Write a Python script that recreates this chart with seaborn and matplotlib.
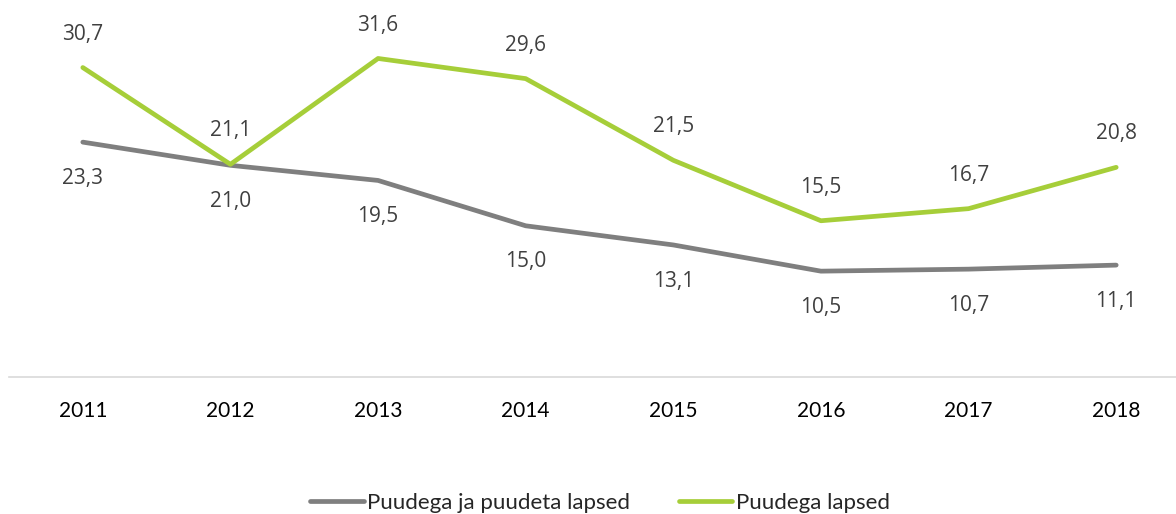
import matplotlib.pyplot as plt
import seaborn as sns
import pandas as pd

# Data
years = ["2011", "2012", "2013", "2014", "2015", "2016", "2017", "2018"]
all_children = [23.3, 21.0, 19.5, 15.0, 13.1, 10.5, 10.7, 11.1]
disabled_children = [30.7, 21.1, 31.6, 29.6, 21.5, 15.5, 16.7, 20.8]
series_names = ["Puudega ja puudeta lapsed", "Puudega lapsed"]

GRAY = "#7f7f7f"
GREEN = "#a6ce39"
TEXT = "#404040"

sns.set_theme(style="white")
plt.rcParams["font.family"] = ["Lato", "DejaVu Sans"]

df = pd.DataFrame(
    {
        "year": years * 2,
        "x": list(range(len(years))) * 2,
        "value": all_children + disabled_children,
        "series": [series_names[0]] * len(years) + [series_names[1]] * len(years),
    }
)

fig = plt.figure(figsize=(11.76, 5.14), dpi=100)
# axes wider than the figure on the right, as in the cropped original
ax = fig.add_axes([9 / 1176, 137 / 514, 1181 / 1176, 377 / 514])

sns.lineplot(
    data=df,
    x="x",
    y="value",
    hue="series",
    palette=[GRAY, GREEN],
    linewidth=3.4,
    ax=ax,
    legend=False,
    solid_capstyle="round",
)

# value labels: gray below, green above
for i, (g, v) in enumerate(zip(all_children, disabled_children)):
    ax.annotate(f"{g:.1f}".replace(".", ","), (i, g), xytext=(0, -26),
                textcoords="offset points", ha="center", va="center",
                fontsize=15, color=TEXT, family=["Open Sans", "DejaVu Sans"])
    ax.annotate(f"{v:.1f}".replace(".", ","), (i, v), xytext=(0, 24),
                textcoords="offset points", ha="center", va="center",
                fontsize=15, color=TEXT, family=["Open Sans", "DejaVu Sans"])

ax.set_xlim(-0.5, 7.5)
ax.set_ylim(0, 37.4)
ax.set_xticks(range(len(years)))
ax.set_xticklabels(years, fontsize=15, color="black")
ax.set_yticks([])
ax.set_xlabel("")
ax.set_ylabel("")
ax.tick_params(axis="x", length=0, pad=17)
for side in ["top", "right", "left"]:
    ax.spines[side].set_visible(False)
ax.spines["bottom"].set_color("#d9d9d9")
ax.spines["bottom"].set_linewidth(1.2)

handles = [
    plt.Line2D([], [], color=GRAY, linewidth=3.4, solid_capstyle="round"),
    plt.Line2D([], [], color=GREEN, linewidth=3.4, solid_capstyle="round"),
]
fig.legend(
    handles,
    series_names,
    loc="center",
    bbox_to_anchor=(600 / 1176, 1 - 503 / 514),
    ncol=2,
    frameon=False,
    fontsize=16,
    handlelength=2.4,
    handletextpad=0.15,
    columnspacing=2.2,
)

fig.savefig("out.png", dpi=100)
